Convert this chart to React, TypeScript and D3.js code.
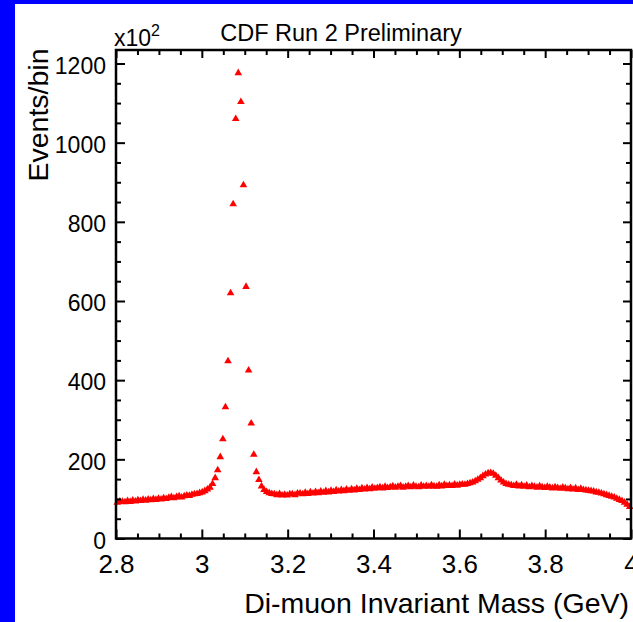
import React, { useRef, useEffect } from "react";
import * as d3 from "d3";

// histogram binning: 200 bins from 2.8 to 4.0 GeV
const massLow = 2.8;
const binWidth = 0.006;

// events per bin (x10^2)
const counts = [
  91, 94, 93, 92, 95, 93, 96, 94, 97, 95,
  98, 96, 99, 97, 100, 98, 101, 99, 102, 100,
  103, 105, 102, 105, 107, 104, 107, 109, 108, 111,
  112, 113, 115, 117, 120, 124, 129, 138, 153, 173,
  206, 251, 332, 448, 620, 845, 1060, 1176, 1103, 893,
  636, 425, 291, 212, 168, 148, 132, 123, 118, 115,
  113, 112, 110, 113, 109, 111, 109, 112, 112, 110,
  114, 114, 112, 116, 113, 117, 114, 118, 115, 119,
  116, 120, 117, 121, 118, 122, 119, 123, 120, 124,
  121, 125, 122, 126, 123, 127, 124, 128, 125, 129,
  126, 128, 130, 127, 131, 128, 130, 132, 129, 131,
  133, 129, 131, 133, 130, 134, 131, 130, 134, 131,
  133, 131, 135, 132, 131, 135, 132, 136, 133, 135,
  133, 137, 134, 136, 137, 136, 138, 140, 142, 145,
  149, 153, 158, 162, 165, 166, 164, 159, 153, 147,
  142, 138, 136, 135, 133, 136, 132, 135, 131, 134,
  130, 133, 131, 129, 132, 130, 128, 131, 129, 127,
  130, 128, 126, 129, 127, 125, 128, 124, 127, 123,
  126, 123, 122, 121, 120, 119, 117, 116, 114, 112,
  110, 108, 106, 104, 101, 98, 95, 91, 86, 80,
];

const xMajor = [2.8, 3.0, 3.2, 3.4, 3.6, 3.8, 4.0];
const xTickLabels = ["2.8", "3", "3.2", "3.4", "3.6", "3.8", "4"];
const xMinor = d3.range(0, 25).map(i => +(2.8 + i * 0.05).toFixed(2)).filter(v => !xMajor.some(m => Math.abs(m - v) < 1e-6));
const yMajor = [0, 200, 400, 600, 800, 1000, 1200];
const yMinor = d3.range(0, 25).map(i => i * 50).filter(v => v % 200 !== 0);

const FONT = "'Liberation Sans', Arial, sans-serif";

export default function App() {
  const ref = useRef<SVGSVGElement>(null);

  useEffect(() => {
    const width = 633, height = 622;
    const left = 116, right = 631, top = 50, bottom = 538.5;

    const svg = d3.select(ref.current);
    svg.selectAll("*").remove();
    svg.attr("width", width).attr("height", height);

    // blue slide background + white panel
    svg.append("rect").attr("width", width).attr("height", height).attr("fill", "#0000ff");
    svg.append("rect").attr("x", 15).attr("y", 4).attr("width", width - 15).attr("height", height - 4).attr("fill", "#fff");

    const x = d3.scaleLinear().domain([2.8, 4.0]).range([left, right]);
    const y = d3.scaleLinear().domain([0, 1200]).range([bottom, 63.5]);

    const data = counts.map((c, i) => ({ m: massLow + binWidth * (i + 0.5), c }));

    // data points
    const tri = d3.symbol().type(d3.symbolTriangle).size(25);
    svg.append("g")
      .selectAll("path")
      .data(data)
      .enter()
      .append("path")
      .attr("d", tri()!)
      .attr("transform", d => `translate(${x(d.m)},${y(d.c)})`)
      .attr("fill", "#ff0000");

    // axes (ticks point inward)
    const fmt = (d: d3.NumberValue) => xTickLabels[xMajor.findIndex(v => Math.abs(v - +d) < 1e-6)];
    const gx = svg.append("g").attr("transform", `translate(0,${bottom})`)
      .call(d3.axisBottom(x).tickValues(xMajor).tickSize(-9).tickPadding(16).tickFormat(fmt));
    gx.selectAll("text").attr("font-size", 26).attr("font-family", FONT).attr("fill", "#000");
    svg.append("g").attr("transform", `translate(0,${bottom})`)
      .call(d3.axisBottom(x).tickValues(xMinor).tickSize(-5).tickFormat(() => ""));
    svg.append("g").attr("transform", `translate(0,${top})`)
      .call(d3.axisTop(x).tickValues(xMajor).tickSize(-8).tickFormat(() => ""));
    svg.append("g").attr("transform", `translate(0,${top})`)
      .call(d3.axisTop(x).tickValues(xMinor).tickSize(-5).tickFormat(() => ""));

    const gy = svg.append("g").attr("transform", `translate(${left},0)`)
      .call(d3.axisLeft(y).tickValues(yMajor).tickSize(-9).tickPadding(10).tickFormat(d3.format("d")));
    gy.selectAll("text").attr("font-size", 23).attr("font-family", FONT).attr("fill", "#000").attr("dy", "0.42em");
    svg.append("g").attr("transform", `translate(${left},0)`)
      .call(d3.axisLeft(y).tickValues(yMinor).tickSize(-5).tickFormat(() => ""));
    svg.append("g").attr("transform", `translate(${right},0)`)
      .call(d3.axisRight(y).tickValues(yMajor).tickSize(-8).tickFormat(() => ""));
    svg.append("g").attr("transform", `translate(${right},0)`)
      .call(d3.axisRight(y).tickValues(yMinor).tickSize(-5).tickFormat(() => ""));

    svg.selectAll(".domain").remove();
    svg.selectAll(".tick line").attr("stroke", "#000").attr("stroke-width", 2);

    // frame
    svg.append("rect")
      .attr("x", left).attr("y", top)
      .attr("width", right - left).attr("height", bottom - top)
      .attr("fill", "none").attr("stroke", "#000").attr("stroke-width", 2.5);

    // texts
    svg.append("text").attr("x", 341).attr("y", 41).attr("text-anchor", "middle")
      .attr("font-family", FONT).attr("font-size", 23.5).text("CDF Run 2 Preliminary");

    const mult = svg.append("text").attr("x", 114).attr("y", 46)
      .attr("font-family", FONT).attr("font-size", 23);
    mult.append("tspan").text("x10");
    mult.append("tspan").attr("font-size", 16).attr("dy", -10).text("2");

    svg.append("text").attr("transform", "translate(48,115) rotate(-90)")
      .attr("text-anchor", "middle").attr("font-family", FONT).attr("font-size", 28.5)
      .text("Events/bin");

    svg.append("text").attr("x", 629).attr("y", 613).attr("text-anchor", "end")
      .attr("font-family", FONT).attr("font-size", 28.5)
      .text("Di-muon Invariant Mass (GeV)");
  }, []);

  return (
    <div style={{ position: "absolute", left: 0, top: 0 }}>
      <svg ref={ref} style={{ display: "block" }}></svg>
    </div>
  );
}
